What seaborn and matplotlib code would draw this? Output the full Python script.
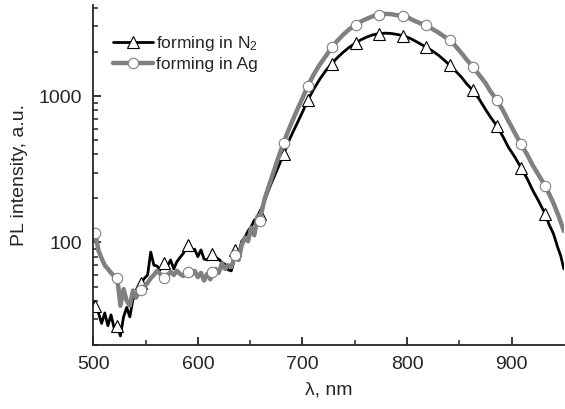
import numpy as np
import matplotlib
matplotlib.use("Agg")
import matplotlib.pyplot as plt
import seaborn as sns
from matplotlib.lines import Line2D

# wavelength grid (nm), shared by both spectra
wl = [500, 502, 505, 508, 511, 514, 517, 520, 523, 526, 529, 532, 535, 538, 541, 544,
      546, 549, 552, 555, 558, 561, 564, 568, 571, 574, 577, 580, 583, 586, 589, 591,
      594, 597, 600, 603, 606, 609, 612, 614, 617, 620, 623, 626, 629, 632, 634, 636,
      639, 642, 645, 648, 651, 654, 657, 659, 664, 670, 676, 682, 688, 694, 700, 705,
      711, 717, 723, 728, 733, 739, 745, 751, 756, 762, 767, 773, 779, 785, 790, 796,
      802, 807, 812, 818, 824, 830, 835, 841, 846, 852, 857, 863, 869, 875, 880, 886,
      892, 897, 903, 909, 915, 920, 926, 932, 936, 940, 944, 947, 950]

# PL intensity, forming in N2
pl_n2 = [40, 37, 33, 28, 33, 27, 32, 26, 27, 23, 31, 36, 31, 41, 43, 50,
         53, 57, 60, 86, 70, 69, 65, 72, 69, 76, 66, 74, 79, 84, 93, 96,
         88, 90, 80, 89, 77, 76, 81, 84, 79, 77, 73, 71, 65, 64, 72, 89,
         84, 102, 108, 120, 128, 142, 146, 157, 195, 251, 316, 401, 513, 631, 776, 935,
         1122, 1318, 1514, 1660, 1820, 1995, 2163, 2305, 2427, 2541, 2618, 2672, 2692, 2679, 2642, 2593,
         2500, 2399, 2291, 2164, 2042, 1905, 1778, 1625, 1496, 1349, 1216, 1094, 955, 813, 716, 625,
         525, 447, 385, 325, 272, 229, 191, 157, 132, 115, 93, 81, 66]

# PL intensity, forming in Ag
pl_ag = [104, 116, 88, 78, 70, 66, 62, 59, 57, 37, 48, 40, 37, 47, 42, 47,
         47, 50, 53, 57, 60, 64, 61, 57, 60, 63, 60, 64, 61, 59, 63, 63,
         60, 64, 58, 62, 55, 61, 56, 63, 66, 62, 72, 66, 70, 68, 75, 82,
         76, 96, 108, 102, 126, 112, 150, 140, 200, 269, 363, 481, 617, 776, 966, 1170,
         1413, 1660, 1905, 2155, 2371, 2630, 2871, 3073, 3236, 3388, 3508, 3597, 3648, 3631, 3573, 3510,
         3412, 3273, 3162, 3040, 2884, 2723, 2570, 2404, 2213, 1972, 1778, 1584, 1396, 1230, 1072, 939,
         794, 676, 562, 469, 398, 339, 288, 244, 214, 186, 158, 138, 120]

# wavelengths that carry a symbol
marker_wl = [502, 523, 546, 568, 591, 614, 636, 659, 682, 705,
             728, 751, 773, 796, 818, 841, 863, 886, 909, 932]

labels = ["forming in N$_2$", "forming in Ag"]

sns.set_style("ticks")
plt.rcParams["font.family"] = ["Liberation Sans", "DejaVu Sans"]
plt.rcParams["mathtext.fontset"] = "custom"
plt.rcParams["mathtext.rm"] = "Liberation Sans"
plt.rcParams["mathtext.it"] = "Liberation Sans"

fig = plt.figure(figsize=(5.65, 4.09), dpi=100)
ax = fig.add_axes([0.165, 0.157, 0.833, 0.831])

mark_idx = list(np.where(np.isin(wl, marker_wl))[0])

n2_style = dict(color="black", lw=2.0, marker="^", markersize=8.5,
                markerfacecolor="white", markeredgecolor="black", markeredgewidth=0.8)
ag_style = dict(color="#808080", lw=3.2, marker="o", markersize=7.5,
                markerfacecolor="white", markeredgecolor="#808080", markeredgewidth=0.8)

sns.lineplot(x=wl, y=pl_n2, ax=ax, markevery=mark_idx, **n2_style)
sns.lineplot(x=wl, y=pl_ag, ax=ax, markevery=mark_idx, **ag_style)

ax.set_yscale("log")
ax.set_xlim(500, 950)
ax.set_ylim(20, 4200)
ax.set_xticks([500, 600, 700, 800, 900])
ax.set_xticks([550, 650, 750, 850], minor=True)
ax.set_yticks([100, 1000])
ax.set_yticklabels(["100", "1000"])

for s in ["top", "right"]:
    ax.spines[s].set_visible(False)
for s in ["left", "bottom"]:
    ax.spines[s].set_linewidth(1.3)

ax.tick_params(which="major", direction="in", length=6, width=1.3, labelsize=14, pad=8)
ax.tick_params(which="minor", direction="in", length=3.5, width=1.1)
ax.tick_params(axis="y", which="minor", labelleft=False)

ax.set_xlabel("λ, nm", fontsize=14, labelpad=6)
ax.set_ylabel("PL intensity, a.u.", fontsize=14, labelpad=8)

handles = [Line2D([], [], **n2_style), Line2D([], [], **ag_style)]
ax.legend(handles, labels, loc="upper left", bbox_to_anchor=(0.02, 0.945), frameon=False,
          fontsize=12.5, handlelength=2.3, handletextpad=0.2, labelspacing=0.2,
          borderaxespad=0.2, numpoints=1)

fig.savefig("out.png", dpi=100)
